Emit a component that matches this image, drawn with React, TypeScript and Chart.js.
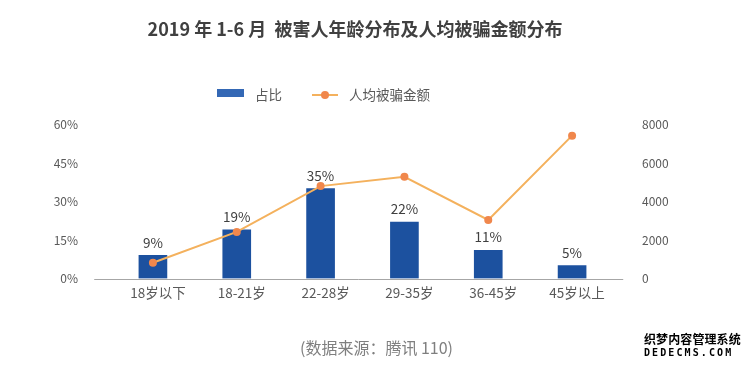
import React, { useEffect, useRef } from "react";
import { Chart, registerables } from "chart.js";

Chart.register(...registerables);

const categories = ["18岁以下", "18-21岁", "22-28岁", "29-35岁", "36-45岁", "45岁以上"];
const shareValues = [9, 19, 35, 22, 11, 5];
const shareLabels = ["9%", "19%", "35%", "22%", "11%", "5%"];
const amountValues = [820, 2420, 4800, 5280, 3040, 7420];
const leftTicks = [0, 15, 30, 45, 60];
const rightTicks = [0, 2000, 4000, 6000, 8000];

const FONT = '"Noto Sans CJK SC", "Noto Sans", sans-serif';
const BAR_COLOR = "#1c519f";
const LINE_COLOR = "#f4b15d";
const POINT_COLOR = "#f0874c";

export default function App() {
  const canvasRef = useRef<HTMLCanvasElement | null>(null);

  useEffect(() => {
    document.body.style.margin = "0";
    const canvas = canvasRef.current;
    if (!canvas) return;

    const labelPlugin = {
      id: "barLabels",
      afterDatasetsDraw(chart: any) {
        const ctx = chart.ctx;
        const meta = chart.getDatasetMeta(0);
        ctx.save();
        ctx.font = `13.5px ${FONT}`;
        ctx.fillStyle = "#404040";
        ctx.textAlign = "center";
        ctx.textBaseline = "middle";
        meta.data.forEach((el: any, i: number) => {
          ctx.fillText(shareLabels[i], el.x, el.y - 13);
        });
        ctx.restore();
      },
    };

    const axisLinePlugin = {
      id: "axisLine",
      beforeDatasetsDraw(chart: any) {
        const x = chart.scales.x;
        const y = chart.scales.y;
        const step = x.getPixelForValue(1) - x.getPixelForValue(0);
        const left = x.getPixelForValue(0) - 0.7 * step;
        const right = x.getPixelForValue(categories.length - 1) + 0.61 * step;
        const yy = Math.round(y.getPixelForValue(0)) + 0.5;
        const ctx = chart.ctx;
        ctx.save();
        ctx.strokeStyle = "#a6a6a6";
        ctx.lineWidth = 1;
        ctx.beginPath();
        ctx.moveTo(left, yy);
        ctx.lineTo(right, yy);
        ctx.stroke();
        ctx.restore();
      },
    };

    const chart = new Chart(canvas, {
      type: "bar",
      data: {
        labels: categories,
        datasets: [
          {
            type: "bar",
            label: "占比",
            data: shareValues,
            backgroundColor: BAR_COLOR,
            barThickness: 28,
            yAxisID: "y",
            order: 2,
          },
          {
            type: "line",
            label: "人均被骗金额",
            data: amountValues,
            borderColor: LINE_COLOR,
            borderWidth: 2,
            pointRadius: 4,
            pointBackgroundColor: POINT_COLOR,
            pointBorderWidth: 0,
            tension: 0,
            yAxisID: "y1",
            order: 1,
          },
        ],
      },
      options: {
        responsive: false,
        animation: false,
        devicePixelRatio: 1,
        layout: { padding: { top: 124.5, left: 0, right: 0, bottom: 0 } },
        plugins: {
          legend: { display: false },
          tooltip: { enabled: false },
          title: { display: false },
        },
        scales: {
          x: {
            type: "category",
            grid: { display: false, drawTicks: false },
            border: { display: false },
            ticks: {
              color: "#595959",
              font: { family: FONT, size: 13.5 },
              padding: 6,
              maxRotation: 0,
              labelOffset: 5,
            },
            afterFit: (s: any) => {
              s.height = 90.5;
            },
          },
          y: {
            type: "linear",
            position: "left",
            min: 0,
            max: 60,
            grid: { display: false, drawTicks: false },
            border: { display: false },
            afterBuildTicks: (s: any) => {
              s.ticks = leftTicks.map((v) => ({ value: v }));
            },
            ticks: {
              color: "#595959",
              font: { family: FONT, size: 12 },
              padding: 33,
              callback: (v: any) => `${v}%`,
            },
            afterFit: (s: any) => {
              s.width = 111;
            },
          },
          y1: {
            type: "linear",
            position: "right",
            min: 0,
            max: 8000,
            grid: { display: false, drawTicks: false },
            border: { display: false },
            afterBuildTicks: (s: any) => {
              s.ticks = rightTicks.map((v) => ({ value: v }));
            },
            ticks: {
              color: "#595959",
              font: { family: FONT, size: 12 },
              padding: 28,
              callback: (v: any) => `${v}`,
            },
            afterFit: (s: any) => {
              s.width = 139;
            },
          },
        },
      },
      plugins: [axisLinePlugin, labelPlugin],
    } as any);

    return () => chart.destroy();
  }, []);

  const textStyle: React.CSSProperties = {
    position: "absolute",
    fontFamily: FONT,
    whiteSpace: "pre",
  };

  return (
    <div style={{ position: "relative", width: 753, height: 369, background: "#fff", overflow: "hidden" }}>
      <canvas ref={canvasRef} width={753} height={369} style={{ position: "absolute", left: 0, top: 0, width: 753, height: 369 }} />
      <div
        style={{
          ...textStyle,
          left: 0,
          width: 710,
          top: 18,
          textAlign: "center",
          fontSize: 18,
          lineHeight: "20px",
          fontWeight: 700,
          color: "#404040",
        }}
      >
        {"2019 年 1-6 月  被害人年龄分布及人均被骗金额分布"}
      </div>
      {/* legend */}
      <div style={{ position: "absolute", left: 217, top: 89, width: 27, height: 7.5, background: "#3468b5" }} />
      <div style={{ ...textStyle, left: 255, top: 85, fontSize: 13.5, lineHeight: "18px", color: "#595959" }}>占比</div>
      <div style={{ position: "absolute", left: 312, top: 94, width: 26, height: 2, background: LINE_COLOR }} />
      <div style={{ position: "absolute", left: 321, top: 91, width: 8, height: 8, borderRadius: 4, background: POINT_COLOR }} />
      <div style={{ ...textStyle, left: 349, top: 85, fontSize: 13.5, lineHeight: "18px", color: "#595959" }}>人均被骗金额</div>
      {/* source */}
      <div
        style={{
          ...textStyle,
          left: 0,
          width: 753,
          top: 337.5,
          textAlign: "center",
          fontSize: 16,
          lineHeight: "18px",
          color: "#7f7f7f",
        }}
      >
        (数据来源：腾讯 110)
      </div>
      {/* watermark */}
      <div style={{ ...textStyle, left: 644, top: 332, fontSize: 12, lineHeight: "14px", fontWeight: 700, color: "#000", letterSpacing: 0.1 }}>
        织梦内容管理系统
      </div>
      <div
        style={{
          ...textStyle,
          left: 644,
          top: 347,
          fontSize: 10,
          lineHeight: "11px",
          fontWeight: 700,
          color: "#000",
          letterSpacing: 2.1,
          fontFamily: '"DejaVu Sans Mono", monospace',
        }}
      >
        DEDECMS.COM
      </div>
    </div>
  );
}
